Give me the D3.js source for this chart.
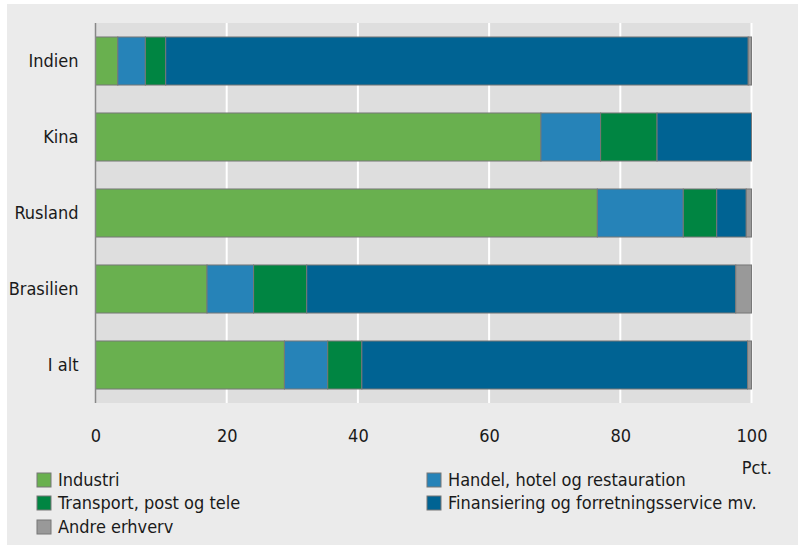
<!DOCTYPE html>
<html><head><meta charset="utf-8">
<script src="https://cdn.jsdelivr.net/npm/d3@7"></script>
<style>
body{margin:0;background:#fff;}
text{font-family:"DejaVu Sans Condensed","DejaVu Sans",sans-serif;font-stretch:condensed;fill:#1a1a1a;}
</style></head>
<body><svg id="c" width="798" height="546"></svg>
<script>
const categories = ["Indien","Kina","Rusland","Brasilien","I alt"];
const seriesNames = ["Industri","Handel, hotel og restauration","Transport, post og tele","Finansiering og forretningsservice mv.","Andre erhverv"];
const industri   = [3.4, 67.9, 76.5, 17.0, 28.8];
const handel     = [4.2,  9.1, 13.1,  7.1,  6.6];
const transport  = [3.1,  8.6,  5.1,  8.1,  5.2];
const finans     = [88.8, 14.4, 4.5, 65.4, 58.8];
const andre      = [0.5,  0.0,  0.8,  2.4,  0.6];
const xTicks = [0,20,40,60,80,100];
const colors = ["#69b04f","#2683b8","#008542","#006393","#999999"];

const seriesVals = [industri, handel, transport, finans, andre];
const rows = categories.map((c,i)=>{const o={cat:c}; seriesNames.forEach((s,j)=>o[s]=seriesVals[j][i]); return o;});

const svg = d3.select("#c");
svg.append("rect").attr("x",7).attr("y",4).attr("width",791).attr("height",541).attr("fill","#ebebeb");
const m = {l:95.5, r:751.5, t:23, b:403};
svg.append("rect").attr("x",m.l).attr("y",m.t).attr("width",m.r-m.l).attr("height",m.b-m.t).attr("fill","#dedede");

const x = d3.scaleLinear().domain([0,100]).range([m.l,m.r]);
const y = d3.scaleBand().domain(categories).range([m.t,m.b]).paddingInner(0.368).paddingOuter(0.184);

svg.append("g").selectAll("line").data(xTicks.filter(d=>d>0)).join("line")
  .attr("x1",d=>x(d)).attr("x2",d=>x(d)).attr("y1",m.t).attr("y2",m.b)
  .attr("stroke","#fff").attr("stroke-width",2);

const stack = d3.stack().keys(seriesNames)(rows);
svg.append("g").selectAll("g").data(stack).join("g").attr("fill",(d,i)=>colors[i])
  .selectAll("rect").data(d=>d.filter(p=>p[1]-p[0]>0)).join("rect")
  .attr("x",d=>x(d[0])).attr("width",d=>x(d[1])-x(d[0]))
  .attr("y",d=>y(d.data.cat)).attr("height",y.bandwidth())
  .attr("stroke","#777").attr("stroke-width",1);

svg.append("line").attr("x1",m.l).attr("x2",m.l).attr("y1",m.t).attr("y2",m.b).attr("stroke","#888").attr("stroke-width",1.5);

const yAxis = svg.append("g").attr("transform",`translate(${m.l},0)`).call(d3.axisLeft(y).tickSize(0).tickPadding(17));
yAxis.select(".domain").remove();
yAxis.selectAll("text").style("font-size","18px").attr("fill","#1a1a1a");

const xAxis = svg.append("g").attr("transform",`translate(0,${m.b})`).call(d3.axisBottom(x).tickValues(xTicks).tickSize(0).tickPadding(26));
xAxis.select(".domain").remove();
xAxis.selectAll("text").style("font-size","18px").attr("fill","#1a1a1a");

svg.append("text").attr("x",772).attr("y",474).attr("text-anchor","end").style("font-size","18px").text("Pct.");

const legPos = [[37,473],[427,473],[37,496],[427,496],[37,520]];
const lg = svg.append("g");
seriesNames.forEach((s,i)=>{
  const [lx,ly] = legPos[i];
  lg.append("rect").attr("x",lx).attr("y",ly).attr("width",14).attr("height",14).attr("fill",colors[i]).attr("stroke","#777").attr("stroke-width",1);
  lg.append("text").attr("x",lx+21).attr("y",ly+7).attr("dy","0.35em").style("font-size","18px").text(s);
});
</script></body></html>
